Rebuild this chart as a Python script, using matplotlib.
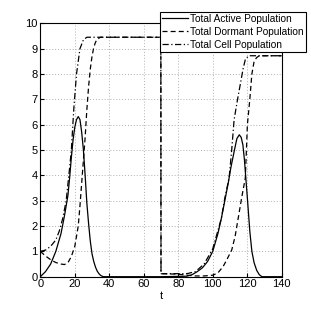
import numpy as np
import matplotlib
matplotlib.use("Agg")
import matplotlib.pyplot as plt

plt.rcParams['font.family'] = ['Liberation Sans', 'DejaVu Sans']

# total active population
t_active = [0, 3, 6, 9, 12, 14, 16, 17, 18, 19, 20, 21, 22, 23, 24, 25, 26, 27, 28, 29,
            30, 31, 32, 33, 34, 35, 36.5, 70, 85, 88, 91, 94, 97, 100, 103, 105, 107, 109,
            110.5, 112.6, 114, 115.4, 116.5, 117.5, 118.4, 119.3, 120.2, 121.5, 122.7, 124,
            125.5, 127, 128.5, 140]
active = [0, 0.2, 0.5, 1.0, 1.7, 2.4, 3.2, 3.9, 4.7, 5.4, 5.9, 6.2, 6.32, 6.2, 5.7, 5.0,
          4.0, 2.9, 2.1, 1.4, 0.9, 0.6, 0.38, 0.22, 0.12, 0.05, 0, 0, 0.02, 0.08, 0.2, 0.35,
          0.6, 1.0, 1.7, 2.3, 3.0, 3.7, 4.3, 5.0, 5.45, 5.6, 5.5, 5.2, 4.6, 3.8, 3.0, 1.8,
          1.0, 0.55, 0.25, 0.08, 0, 0]

# total dormant population
t_dormant = [0, 3, 6, 9, 12, 14, 16, 18, 20, 22, 23, 24, 25, 26, 27, 28, 29, 30, 31, 32,
             33, 35, 69.9, 70, 75, 80, 85, 90, 95, 100, 103, 106, 108, 111, 113, 115, 117,
             118.9, 120.1, 121.5, 122.7, 124, 125.5, 127, 140]
dormant = [1.0, 0.82, 0.67, 0.56, 0.5, 0.48, 0.55, 0.8, 1.2, 2.0, 2.8, 3.7, 4.6, 5.5, 6.6,
           7.5, 8.2, 8.7, 9.05, 9.25, 9.38, 9.45, 9.45, 0.12, 0.11, 0.1, 0.06, 0.03, 0.03,
           0.06, 0.15, 0.4, 0.65, 1.05, 1.6, 2.4, 3.2, 3.9, 6.0, 7.0, 8.0, 8.5, 8.65, 8.72, 8.72]

# total cell population
t_total = [0, 3, 6, 9, 11, 13, 15, 17, 18, 19.5, 21, 23, 25, 27, 69.9, 70, 85, 90, 95,
           100, 105, 107, 109.5, 111, 112.4, 114.4, 116, 117.6, 119, 121, 140]
total = [1.0, 1.05, 1.2, 1.45, 1.8, 2.3, 3.0, 4.3, 5.0, 6.7, 8.0, 9.0, 9.35, 9.45, 9.45,
         0.12, 0.12, 0.2, 0.5, 1.1, 2.3, 3.1, 3.9, 5.0, 6.2, 7.0, 7.6, 8.2, 8.6, 8.72, 8.72]

fig = plt.figure(figsize=(3.11, 3.12), dpi=100)
ax = fig.add_axes([0.1296, 0.1131, 0.7762, 0.8122])

ax.plot(t_active, active, color='black', lw=0.9, ls='-', label='Total Active Population')
ax.plot(t_dormant, dormant, color='black', lw=0.9, ls=(0, (4, 2.5)), label='Total Dormant Population')
ax.plot(t_total, total, color='black', lw=0.9, ls=(0, (5, 2, 1, 2)), label='Total Cell Population')

ax.set_xlim(0, 140)
ax.set_ylim(0, 10)
ax.set_xticks(np.arange(0, 141, 20))
ax.set_yticks(np.arange(0, 11, 1))
ax.grid(True, color='#b0b0b0', ls=(0, (1, 2)), lw=0.7)
ax.tick_params(direction='in', length=3, labelsize=8, pad=2)
for s in ax.spines.values():
    s.set_linewidth(0.8)
ax.set_xlabel('t', fontsize=8, labelpad=1)

leg = ax.legend(loc='upper right', bbox_to_anchor=(0.983, 0.9625), bbox_transform=fig.transFigure,
                borderaxespad=0, fontsize=7.3, fancybox=False, edgecolor='black', framealpha=1,
                handlelength=2.5, handletextpad=0.25, borderpad=0.2, labelspacing=0.3)
leg.get_frame().set_linewidth(0.8)

fig.savefig('out.png', dpi=100)
